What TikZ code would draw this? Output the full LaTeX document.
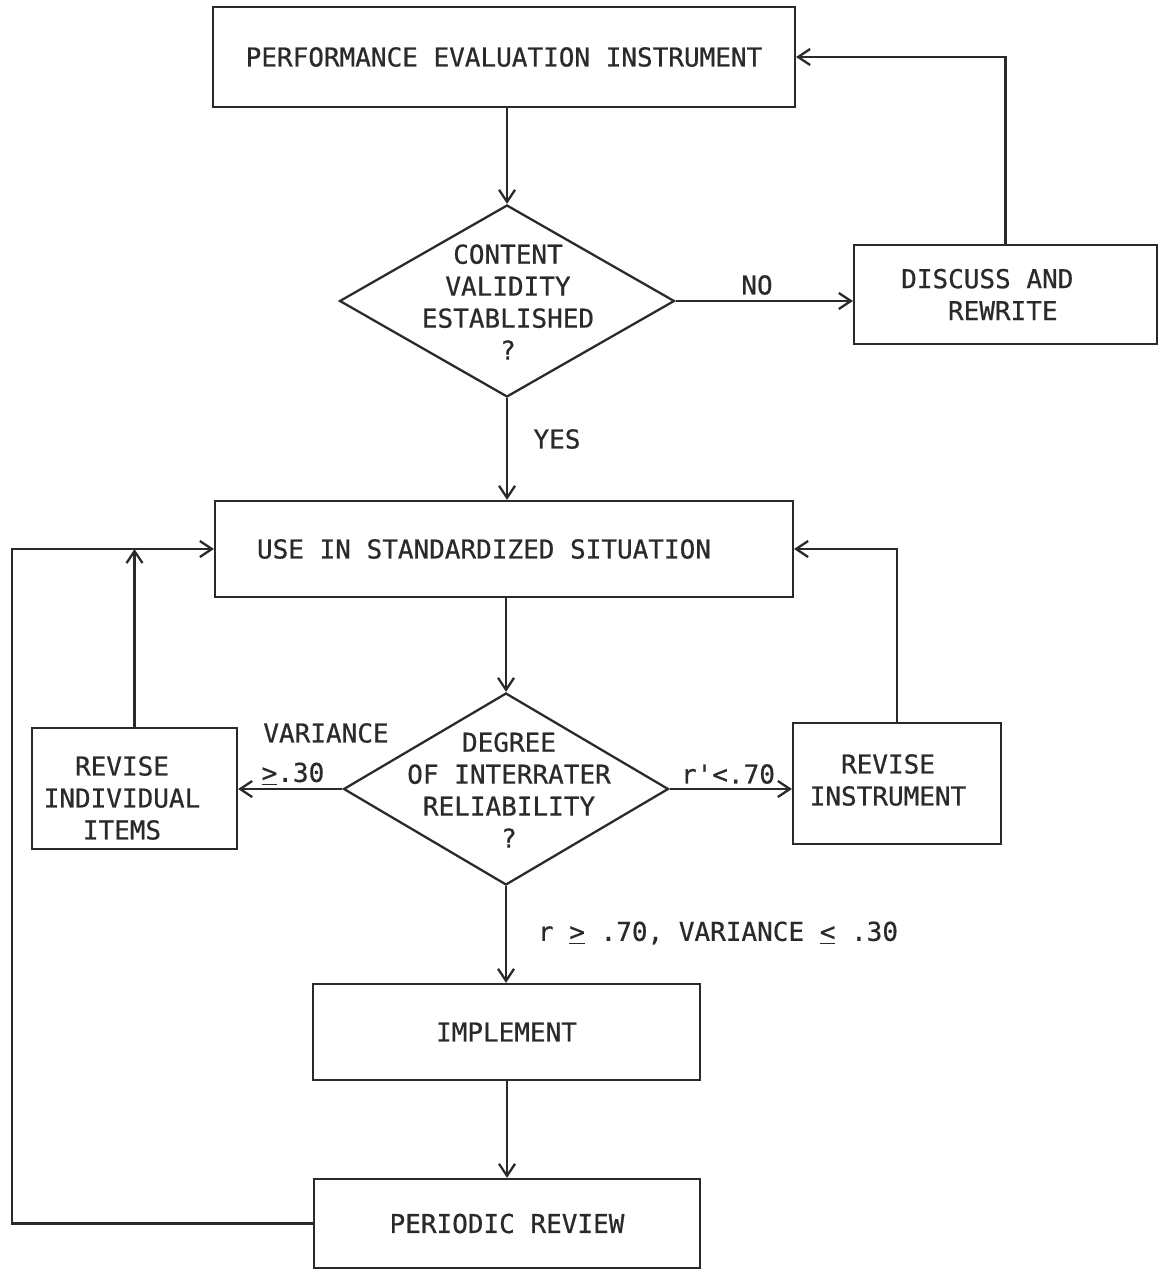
\documentclass[tikz,border=0pt]{standalone}
\usepackage{fontspec}
\setmonofont[FakeBold=0.6]{DejaVu Sans Mono}
\usetikzlibrary{shapes.geometric,arrows.meta}
\definecolor{ink}{HTML}{2A2A2A}
\begin{document}
\begin{tikzpicture}[x=0.02cm,y=-0.02cm,
  every node/.style={text=ink,font=\ttfamily\fontsize{14.8pt}{18.2pt}\selectfont},
  box/.style={draw=ink,line width=1.3pt,rectangle,inner sep=0pt,align=center},
  dia/.style={draw=ink,line width=1.3pt,diamond,inner sep=0pt},
  lbl/.style={inner sep=0pt,align=center},
  arr/.style={draw=ink,line width=1.3pt,-{Straight Barb[length=0.24cm,width=0.32cm]}},
  ln/.style={draw=ink,line width=1.3pt}]
\useasboundingbox[fill=white] (0,0) rectangle (1161,1270);

% nodes
\node[box,minimum width=11.64cm,minimum height=2.0cm] (b1) at (504,57) {PERFORMANCE EVALUATION INSTRUMENT};
\node[dia,minimum width=6.7cm,minimum height=3.84cm] (d1) at (507,301) {};
\node[lbl] (t1) at (508,302) {CONTENT\\VALIDITY\\ESTABLISHED\\?};
\node[box,align=left,minimum width=6.06cm,minimum height=1.98cm] (dr) at (1005.5,294.5) {DISCUSS AND\hspace*{1.4em}\\\hspace*{1.8em}REWRITE};
\node[box,minimum width=11.56cm,minimum height=1.92cm] (b2) at (504,549) {USE IN STANDARDIZED SITUATION\hspace*{0.8cm}};
\node[dia,minimum width=6.5cm,minimum height=3.84cm] (d2) at (506,789) {};
\node[lbl] (t2) at (509,790) {DEGREE\\OF INTERRATER\\RELIABILITY\\?};
\node[box,minimum width=4.1cm,minimum height=2.42cm] (ri) at (134.5,788.5) {};
\node[lbl] (tri) at (122,798) {REVISE\\INDIVIDUAL\\ITEMS};
\node[box,minimum width=4.16cm,minimum height=2.42cm] (rI) at (897,783.5) {};
\node[lbl] (trI) at (888,780) {REVISE\\INSTRUMENT};
\node[box,minimum width=7.74cm,minimum height=1.92cm] (imp) at (506.5,1032) {IMPLEMENT};
\node[box,minimum width=7.72cm,minimum height=1.78cm] (pr) at (507,1223.5) {PERIODIC REVIEW};

% labels
\node[lbl] (no) at (757,285) {NO};
\node[lbl] (yes) at (557,439) {YES};
\node[lbl] (var) at (326,733) {VARIANCE};
\node[lbl] (v30) at (293,774) {\underline{>}.30};
\node[lbl] (r70) at (728,774) {r'<.70};
\node[lbl] (ok) at (718,933) {r \underline{>} .70, VARIANCE \underline{<} .30};

% connectors
\draw[arr] (d1.north |- b1.south) -- (d1.north);
\draw[arr] (d1.east) -- (d1.east -| dr.west);
\draw[arr] (dr.north) |- (b1.east);
\draw[arr] (d1.south) -- (d1.south |- b2.north);
\draw[arr] (d2.north |- b2.south) -- (d2.north);
\draw[arr] (d2.west) -- (d2.west -| ri.east);
\draw[arr] (d2.east) -- (d2.east -| rI.west);
\draw[arr] (ri.north) -- (ri.north |- b2.west);
\draw[arr] (rI.north) |- (b2.east);
\draw[arr] (d2.south) -- (d2.south |- imp.north);
\draw[arr] (imp.south -| pr.north) -- (pr.north);
\coordinate (lft) at (12,1223.5);
\draw[arr] (pr.west) -- (lft) |- (b2.west);
\end{tikzpicture}
\end{document}
